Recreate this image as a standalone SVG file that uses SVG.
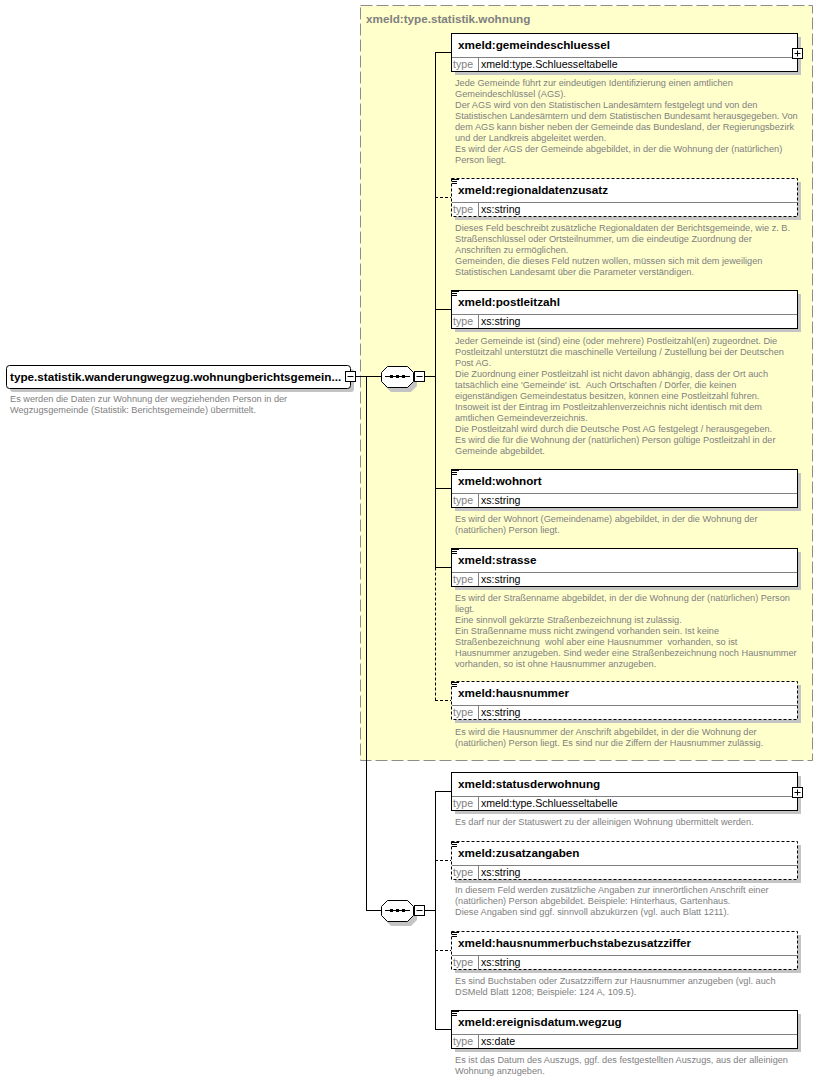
<svg xmlns="http://www.w3.org/2000/svg" width="831" height="1081" viewBox="0 0 831 1081">
<style>
text{font-family:"Liberation Sans",Arial,sans-serif;white-space:pre}
.title{font-size:11.7px;font-weight:bold;fill:#000}
.gtitle{font-size:11.7px;font-weight:bold;fill:#808080}
.tl{font-size:10.6px;fill:#808080}
.tv{font-size:10.6px;fill:#000}
.d{font-size:9.2px;fill:#808080}
.box{fill:#fff;stroke:#000;stroke-width:1}
.dbox{fill:#fff;stroke:#000;stroke-width:1;stroke-dasharray:3,2}
.sh{fill:#c4c4c4}
.sep{stroke:#808080;stroke-width:1}
.ln{stroke:#000;stroke-width:1;fill:none}
.dln{stroke:#000;stroke-width:1;fill:none;stroke-dasharray:3,2}
.ic{stroke:#000;stroke-width:1}
.btn{fill:#fff;stroke:#000;stroke-width:1}
</style>
<defs>
<g id="seq">
<polygon class="sh" points="391,376 411,376 417,382 417,391 411,397 391,397 385,391 385,382" transform="translate(0,-5)"/>
<polygon fill="#fff" stroke="#000" points="387.5,366.5 407.5,366.5 413.5,372.5 413.5,381.5 407.5,387.5 387.5,387.5 381.5,381.5 381.5,372.5"/>
<line class="ln" x1="385" y1="376.5" x2="410" y2="376.5"/>
<rect x="390" y="375" width="3" height="3" fill="#000"/>
<rect x="396" y="375" width="3" height="3" fill="#000"/>
<rect x="402" y="375" width="3" height="3" fill="#000"/>
<rect class="btn" x="414.5" y="371.5" width="10" height="10"/>
<line class="ln" x1="416.5" y1="376.5" x2="422.5" y2="376.5"/>
</g>
<g id="icon">
<line class="ic" x1="452" y1="1.5" x2="459" y2="1.5"/>
<line class="ic" x1="452" y1="3.5" x2="457" y2="3.5"/>
<line class="ic" x1="452" y1="5.5" x2="457" y2="5.5"/>
</g>
<g id="plus">
<rect class="btn" x="792.5" y="15.5" width="10" height="10"/>
<line class="ln" x1="794.5" y1="20.5" x2="800.5" y2="20.5"/>
<line class="ln" x1="797.5" y1="17.5" x2="797.5" y2="23.5"/>
</g>
</defs>

<rect x="360.5" y="5.5" width="452" height="755" fill="#ffffcc" stroke="#8c8c8c" stroke-dasharray="12,4"/>
<text class="gtitle" x="366" y="23">xmeld:type.statistik.wohnung</text>

<g id="connectors">
<line class="ln" x1="356" y1="376.5" x2="381" y2="376.5"/>
<line class="ln" x1="366.5" y1="376.5" x2="366.5" y2="910.5"/>
<line class="ln" x1="366" y1="910.5" x2="381" y2="910.5"/>
<line class="ln" x1="424" y1="376.5" x2="435.5" y2="376.5"/>
<line class="ln" x1="435.5" y1="52.5" x2="435.5" y2="567.5"/>
<line class="dln" x1="435.5" y1="567.5" x2="435.5" y2="700.5"/>
<line class="ln" x1="435" y1="52.5" x2="451" y2="52.5"/>
<line class="dln" x1="435" y1="197.5" x2="451" y2="197.5"/>
<line class="ln" x1="435" y1="309.5" x2="451" y2="309.5"/>
<line class="ln" x1="435" y1="488.5" x2="451" y2="488.5"/>
<line class="ln" x1="435" y1="567.5" x2="451" y2="567.5"/>
<line class="dln" x1="435" y1="700.5" x2="451" y2="700.5"/>
<line class="ln" x1="424" y1="910.5" x2="435.5" y2="910.5"/>
<line class="ln" x1="435.5" y1="791.5" x2="435.5" y2="1029.5"/>
<line class="ln" x1="435" y1="791.5" x2="451" y2="791.5"/>
<line class="dln" x1="435" y1="860.5" x2="451" y2="860.5"/>
<line class="dln" x1="435" y1="950.5" x2="451" y2="950.5"/>
<line class="ln" x1="435" y1="1029.5" x2="451" y2="1029.5"/>
</g>

<g id="root">
<rect class="sh" x="10" y="369" width="344" height="23" rx="3"/>
<rect class="box" x="6.5" y="365.5" width="344" height="23" rx="3"/>
<text class="title" x="10" y="381">type.statistik.wanderungwegzug.wohnungberichtsgemein...</text>
<rect class="btn" x="345.5" y="371.5" width="10" height="10"/>
<line class="ln" x1="347.5" y1="376.5" x2="353.5" y2="376.5"/>
<text class="d" x="10" y="402">Es werden die Daten zur Wohnung der wegziehenden Person in der</text>
<text class="d" x="10" y="413">Wegzugsgemeinde (Statistik: Berichtsgemeinde) übermittelt.</text>
</g>

<g id="seq1"><use href="#seq"/></g>
<g id="seq2"><use href="#seq" transform="translate(0,534)"/></g>

<g id="el-gemeindeschluessel">
<rect class="sh" x="455" y="37" width="346" height="38"/>
<rect class="box" x="451.5" y="33.5" width="346" height="38"/>
<line class="sep" x1="452" y1="57.5" x2="797" y2="57.5"/>
<line class="sep" x1="478.5" y1="58" x2="478.5" y2="71"/>
<text class="title" x="458" y="49">xmeld:gemeindeschluessel</text>
<text class="tl" x="453" y="68">type</text>
<text class="tv" x="481" y="68">xmeld:type.Schluesseltabelle</text>
<use href="#plus" transform="translate(0,33)"/>
<text class="d" x="455" y="86">Jede Gemeinde führt zur eindeutigen Identifizierung einen amtlichen</text>
<text class="d" x="455" y="97">Gemeindeschlüssel (AGS).</text>
<text class="d" x="455" y="108">Der AGS wird von den Statistischen Landesämtern festgelegt und von den</text>
<text class="d" x="455" y="119">Statistischen Landesämtern und dem Statistischen Bundesamt herausgegeben. Von</text>
<text class="d" x="455" y="130">dem AGS kann bisher neben der Gemeinde das Bundesland, der Regierungsbezirk</text>
<text class="d" x="455" y="141">und der Landkreis abgeleitet werden.</text>
<text class="d" x="455" y="152">Es wird der AGS der Gemeinde abgebildet, in der die Wohnung der (natürlichen)</text>
<text class="d" x="455" y="163">Person liegt.</text>
</g>

<g id="el-regionaldatenzusatz">
<rect class="sh" x="455" y="182" width="346" height="38"/>
<rect class="dbox" x="451.5" y="178.5" width="346" height="38"/>
<line class="sep" x1="452" y1="202.5" x2="797" y2="202.5"/>
<line class="sep" x1="478.5" y1="203" x2="478.5" y2="216"/>
<use href="#icon" transform="translate(0,178)"/>
<text class="title" x="458" y="194">xmeld:regionaldatenzusatz</text>
<text class="tl" x="453" y="213">type</text>
<text class="tv" x="481" y="213">xs:string</text>
<text class="d" x="455" y="231">Dieses Feld beschreibt zusätzliche Regionaldaten der Berichtsgemeinde, wie z. B.</text>
<text class="d" x="455" y="242">Straßenschlüssel oder Ortsteilnummer, um die eindeutige Zuordnung der</text>
<text class="d" x="455" y="253">Anschriften zu ermöglichen.</text>
<text class="d" x="455" y="264">Gemeinden, die dieses Feld nutzen wollen, müssen sich mit dem jeweiligen</text>
<text class="d" x="455" y="275">Statistischen Landesamt über die Parameter verständigen.</text>
</g>

<g id="el-postleitzahl">
<rect class="sh" x="455" y="294" width="346" height="38"/>
<rect class="box" x="451.5" y="290.5" width="346" height="38"/>
<line class="sep" x1="452" y1="314.5" x2="797" y2="314.5"/>
<line class="sep" x1="478.5" y1="315" x2="478.5" y2="328"/>
<use href="#icon" transform="translate(0,290)"/>
<text class="title" x="458" y="306">xmeld:postleitzahl</text>
<text class="tl" x="453" y="325">type</text>
<text class="tv" x="481" y="325">xs:string</text>
<text class="d" x="455" y="344">Jeder Gemeinde ist (sind) eine (oder mehrere) Postleitzahl(en) zugeordnet. Die</text>
<text class="d" x="455" y="355">Postleitzahl unterstützt die maschinelle Verteilung / Zustellung bei der Deutschen</text>
<text class="d" x="455" y="366">Post AG.</text>
<text class="d" x="455" y="377">Die Zuordnung einer Postleitzahl ist nicht davon abhängig, dass der Ort auch</text>
<text class="d" x="455" y="388">tatsächlich eine 'Gemeinde' ist.  Auch Ortschaften / Dörfer, die keinen</text>
<text class="d" x="455" y="399">eigenständigen Gemeindestatus besitzen, können eine Postleitzahl führen.</text>
<text class="d" x="455" y="410">Insoweit ist der Eintrag im Postleitzahlenverzeichnis nicht identisch mit dem</text>
<text class="d" x="455" y="421">amtlichen Gemeindeverzeichnis.</text>
<text class="d" x="455" y="432">Die Postleitzahl wird durch die Deutsche Post AG festgelegt / herausgegeben.</text>
<text class="d" x="455" y="443">Es wird die für die Wohnung der (natürlichen) Person gültige Postleitzahl in der</text>
<text class="d" x="455" y="454">Gemeinde abgebildet.</text>
</g>

<g id="el-wohnort">
<rect class="sh" x="455" y="473" width="346" height="38"/>
<rect class="box" x="451.5" y="469.5" width="346" height="38"/>
<line class="sep" x1="452" y1="493.5" x2="797" y2="493.5"/>
<line class="sep" x1="478.5" y1="494" x2="478.5" y2="507"/>
<use href="#icon" transform="translate(0,469)"/>
<text class="title" x="458" y="485">xmeld:wohnort</text>
<text class="tl" x="453" y="504">type</text>
<text class="tv" x="481" y="504">xs:string</text>
<text class="d" x="455" y="522">Es wird der Wohnort (Gemeindename) abgebildet, in der die Wohnung der</text>
<text class="d" x="455" y="533">(natürlichen) Person liegt.</text>
</g>

<g id="el-strasse">
<rect class="sh" x="455" y="552" width="346" height="38"/>
<rect class="box" x="451.5" y="548.5" width="346" height="38"/>
<line class="sep" x1="452" y1="572.5" x2="797" y2="572.5"/>
<line class="sep" x1="478.5" y1="573" x2="478.5" y2="586"/>
<use href="#icon" transform="translate(0,548)"/>
<text class="title" x="458" y="564">xmeld:strasse</text>
<text class="tl" x="453" y="583">type</text>
<text class="tv" x="481" y="583">xs:string</text>
<text class="d" x="455" y="601">Es wird der Straßenname abgebildet, in der die Wohnung der (natürlichen) Person</text>
<text class="d" x="455" y="612">liegt.</text>
<text class="d" x="455" y="623">Eine sinnvoll gekürzte Straßenbezeichnung ist zulässig.</text>
<text class="d" x="455" y="634">Ein Straßenname muss nicht zwingend vorhanden sein. Ist keine</text>
<text class="d" x="455" y="645">Straßenbezeichnung  wohl aber eine Hausnummer  vorhanden, so ist</text>
<text class="d" x="455" y="656">Hausnummer anzugeben. Sind weder eine Straßenbezeichnung noch Hausnummer</text>
<text class="d" x="455" y="667">vorhanden, so ist ohne Hausnummer anzugeben.</text>
</g>

<g id="el-hausnummer">
<rect class="sh" x="455" y="685" width="346" height="38"/>
<rect class="dbox" x="451.5" y="681.5" width="346" height="38"/>
<line class="sep" x1="452" y1="705.5" x2="797" y2="705.5"/>
<line class="sep" x1="478.5" y1="706" x2="478.5" y2="719"/>
<use href="#icon" transform="translate(0,681)"/>
<text class="title" x="458" y="697">xmeld:hausnummer</text>
<text class="tl" x="453" y="716">type</text>
<text class="tv" x="481" y="716">xs:string</text>
<text class="d" x="455" y="735">Es wird die Hausnummer der Anschrift abgebildet, in der die Wohnung der</text>
<text class="d" x="455" y="746">(natürlichen) Person liegt. Es sind nur die Ziffern der Hausnummer zulässig.</text>
</g>

<g id="el-statusderwohnung">
<rect class="sh" x="455" y="776" width="346" height="38"/>
<rect class="box" x="451.5" y="772.5" width="346" height="38"/>
<line class="sep" x1="452" y1="796.5" x2="797" y2="796.5"/>
<line class="sep" x1="478.5" y1="797" x2="478.5" y2="810"/>
<text class="title" x="458" y="788">xmeld:statusderwohnung</text>
<text class="tl" x="453" y="807">type</text>
<text class="tv" x="481" y="807">xmeld:type.Schluesseltabelle</text>
<use href="#plus" transform="translate(0,772)"/>
<text class="d" x="455" y="825">Es darf nur der Statuswert zu der alleinigen Wohnung übermittelt werden.</text>
</g>

<g id="el-zusatzangaben">
<rect class="sh" x="455" y="845" width="346" height="38"/>
<rect class="dbox" x="451.5" y="841.5" width="346" height="38"/>
<line class="sep" x1="452" y1="865.5" x2="797" y2="865.5"/>
<line class="sep" x1="478.5" y1="866" x2="478.5" y2="879"/>
<use href="#icon" transform="translate(0,841)"/>
<text class="title" x="458" y="857">xmeld:zusatzangaben</text>
<text class="tl" x="453" y="876">type</text>
<text class="tv" x="481" y="876">xs:string</text>
<text class="d" x="455" y="893">In diesem Feld werden zusätzliche Angaben zur innerörtlichen Anschrift einer</text>
<text class="d" x="455" y="904">(natürlichen) Person abgebildet. Beispiele: Hinterhaus, Gartenhaus.</text>
<text class="d" x="455" y="915">Diese Angaben sind ggf. sinnvoll abzukürzen (vgl. auch Blatt 1211).</text>
</g>

<g id="el-hausnummerbuchstabezusatzziffer">
<rect class="sh" x="455" y="935" width="346" height="38"/>
<rect class="dbox" x="451.5" y="931.5" width="346" height="38"/>
<line class="sep" x1="452" y1="955.5" x2="797" y2="955.5"/>
<line class="sep" x1="478.5" y1="956" x2="478.5" y2="969"/>
<use href="#icon" transform="translate(0,931)"/>
<text class="title" x="458" y="947">xmeld:hausnummerbuchstabezusatzziffer</text>
<text class="tl" x="453" y="966">type</text>
<text class="tv" x="481" y="966">xs:string</text>
<text class="d" x="455" y="984">Es sind Buchstaben oder Zusatzziffern zur Hausnummer anzugeben (vgl. auch</text>
<text class="d" x="455" y="995">DSMeld Blatt 1208; Beispiele: 124 A, 109.5).</text>
</g>

<g id="el-ereignisdatum.wegzug">
<rect class="sh" x="455" y="1014" width="346" height="38"/>
<rect class="box" x="451.5" y="1010.5" width="346" height="38"/>
<line class="sep" x1="452" y1="1034.5" x2="797" y2="1034.5"/>
<line class="sep" x1="478.5" y1="1035" x2="478.5" y2="1048"/>
<use href="#icon" transform="translate(0,1010)"/>
<text class="title" x="458" y="1026">xmeld:ereignisdatum.wegzug</text>
<text class="tl" x="453" y="1045">type</text>
<text class="tv" x="481" y="1045">xs:date</text>
<text class="d" x="455" y="1063">Es ist das Datum des Auszugs, ggf. des festgestellten Auszugs, aus der alleinigen</text>
<text class="d" x="455" y="1074">Wohnung anzugeben.</text>
</g>
</svg>
